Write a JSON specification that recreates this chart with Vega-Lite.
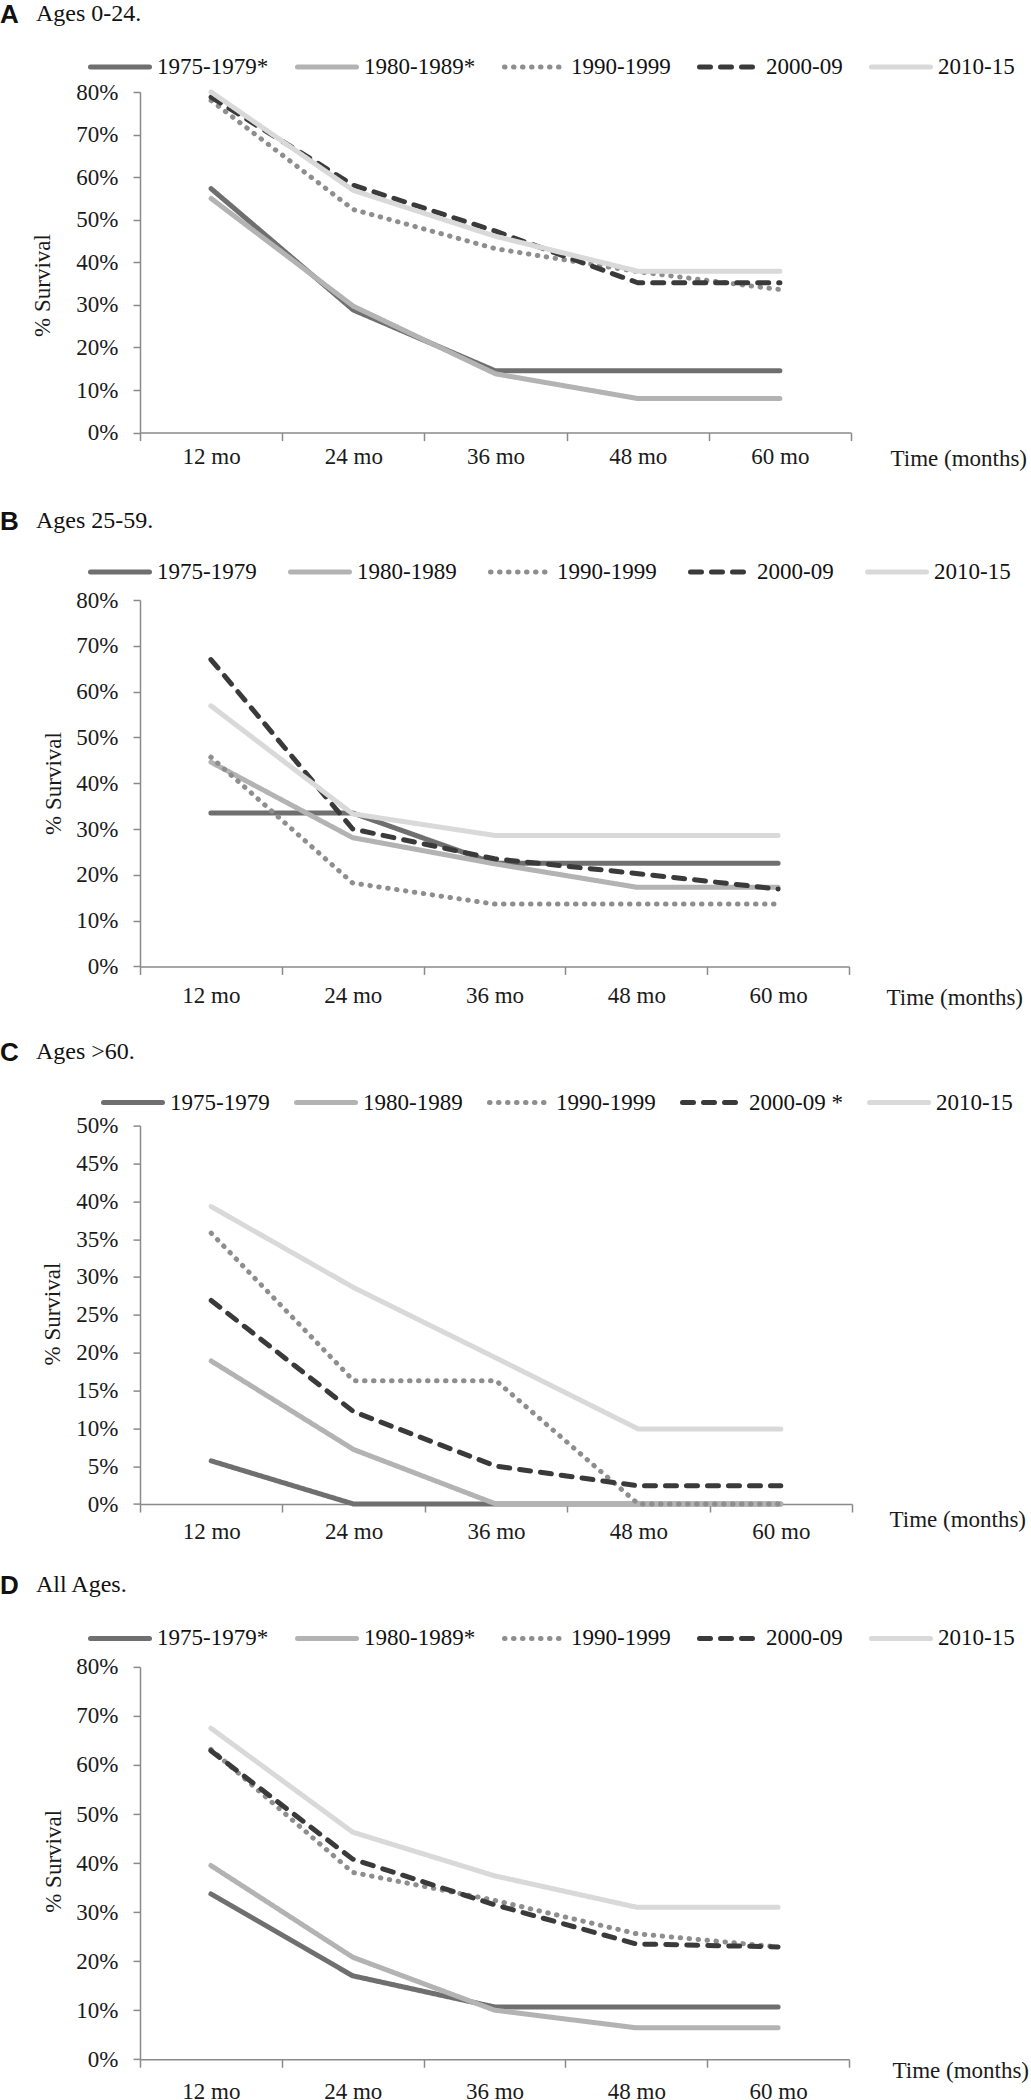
{
  "$schema": "https://vega.github.io/schema/vega-lite/v6.json",
  "padding": {"left": 0, "top": 1, "right": 0, "bottom": 0},
  "background": "white",
  "config": {
    "view": {"stroke": null},
    "font": "Liberation Serif",
    "axis": {
      "labelFont": "Liberation Serif", "labelFontSize": 23, "labelColor": "#1a1a1a",
      "titleFont": "Liberation Serif", "titleFontSize": 23, "titleFontWeight": "normal", "titleColor": "#1a1a1a",
      "domainColor": "#8a8a8a", "domainWidth": 1.5, "tickColor": "#8a8a8a", "tickWidth": 1.5, "grid": false
    },
    "legend": {
      "symbolType": "stroke", "symbolSize": 3481, "labelFont": "Liberation Serif", "labelFontSize": 23,
      "labelColor": "#111111", "labelOffset": 5, "padding": 0, "labelLimit": 300
    },
    "title": {
      "font": "Liberation Sans", "fontSize": 26, "fontWeight": "bold", "color": "#111111",
      "subtitleFont": "Liberation Serif", "subtitleFontSize": 24, "subtitleColor": "#111111",
      "anchor": "start", "frame": "group", "dx": -140, "subtitlePadding": -26
    }
  },
  "datasets": {
    "A": [
      {"period": "1975-1979", "month": 12, "survival": 57.3}, {"period": "1975-1979", "month": 24, "survival": 28.8}, {"period": "1975-1979", "month": 36, "survival": 14.5}, {"period": "1975-1979", "month": 48, "survival": 14.5}, {"period": "1975-1979", "month": 60, "survival": 14.5},
      {"period": "1980-1989", "month": 12, "survival": 55.0}, {"period": "1980-1989", "month": 24, "survival": 29.7}, {"period": "1980-1989", "month": 36, "survival": 13.8}, {"period": "1980-1989", "month": 48, "survival": 8.0}, {"period": "1980-1989", "month": 60, "survival": 8.0},
      {"period": "1990-1999", "month": 12, "survival": 78.0}, {"period": "1990-1999", "month": 24, "survival": 52.4}, {"period": "1990-1999", "month": 36, "survival": 43.2}, {"period": "1990-1999", "month": 48, "survival": 37.8}, {"period": "1990-1999", "month": 60, "survival": 33.6},
      {"period": "2000-09", "month": 12, "survival": 78.8}, {"period": "2000-09", "month": 24, "survival": 58.1}, {"period": "2000-09", "month": 36, "survival": 47.3}, {"period": "2000-09", "month": 48, "survival": 35.2}, {"period": "2000-09", "month": 60, "survival": 35.2},
      {"period": "2010-15", "month": 12, "survival": 80.0}, {"period": "2010-15", "month": 24, "survival": 56.9}, {"period": "2010-15", "month": 36, "survival": 46.1}, {"period": "2010-15", "month": 48, "survival": 37.9}, {"period": "2010-15", "month": 60, "survival": 37.9}
    ],
    "B": [
      {"period": "1975-1979", "month": 12, "survival": 33.5}, {"period": "1975-1979", "month": 24, "survival": 33.5}, {"period": "1975-1979", "month": 36, "survival": 22.5}, {"period": "1975-1979", "month": 48, "survival": 22.5}, {"period": "1975-1979", "month": 60, "survival": 22.5},
      {"period": "1980-1989", "month": 12, "survival": 44.6}, {"period": "1980-1989", "month": 24, "survival": 28.1}, {"period": "1980-1989", "month": 36, "survival": 22.4}, {"period": "1980-1989", "month": 48, "survival": 17.3}, {"period": "1980-1989", "month": 60, "survival": 17.3},
      {"period": "1990-1999", "month": 12, "survival": 45.7}, {"period": "1990-1999", "month": 24, "survival": 18.2}, {"period": "1990-1999", "month": 36, "survival": 13.6}, {"period": "1990-1999", "month": 48, "survival": 13.6}, {"period": "1990-1999", "month": 60, "survival": 13.6},
      {"period": "2000-09", "month": 12, "survival": 67.0}, {"period": "2000-09", "month": 24, "survival": 30.0}, {"period": "2000-09", "month": 36, "survival": 23.5}, {"period": "2000-09", "month": 48, "survival": 20.3}, {"period": "2000-09", "month": 60, "survival": 16.9},
      {"period": "2010-15", "month": 12, "survival": 56.9}, {"period": "2010-15", "month": 24, "survival": 33.3}, {"period": "2010-15", "month": 36, "survival": 28.6}, {"period": "2010-15", "month": 48, "survival": 28.6}, {"period": "2010-15", "month": 60, "survival": 28.6}
    ],
    "C": [
      {"period": "1975-1979", "month": 12, "survival": 5.7}, {"period": "1975-1979", "month": 24, "survival": 0}, {"period": "1975-1979", "month": 36, "survival": 0}, {"period": "1975-1979", "month": 48, "survival": 0}, {"period": "1975-1979", "month": 60, "survival": 0},
      {"period": "1980-1989", "month": 12, "survival": 18.9}, {"period": "1980-1989", "month": 24, "survival": 7.2}, {"period": "1980-1989", "month": 36, "survival": 0}, {"period": "1980-1989", "month": 48, "survival": 0}, {"period": "1980-1989", "month": 60, "survival": 0},
      {"period": "1990-1999", "month": 12, "survival": 35.8}, {"period": "1990-1999", "month": 24, "survival": 16.3}, {"period": "1990-1999", "month": 36, "survival": 16.3}, {"period": "1990-1999", "month": 48, "survival": 0}, {"period": "1990-1999", "month": 60, "survival": 0},
      {"period": "2000-09", "month": 12, "survival": 26.9}, {"period": "2000-09", "month": 24, "survival": 12.2}, {"period": "2000-09", "month": 36, "survival": 5.0}, {"period": "2000-09", "month": 48, "survival": 2.4}, {"period": "2000-09", "month": 60, "survival": 2.4},
      {"period": "2010-15", "month": 12, "survival": 39.3}, {"period": "2010-15", "month": 24, "survival": 28.6}, {"period": "2010-15", "month": 36, "survival": 19.3}, {"period": "2010-15", "month": 48, "survival": 9.9}, {"period": "2010-15", "month": 60, "survival": 9.9}
    ],
    "D": [
      {"period": "1975-1979", "month": 12, "survival": 33.7}, {"period": "1975-1979", "month": 24, "survival": 17.0}, {"period": "1975-1979", "month": 36, "survival": 10.65}, {"period": "1975-1979", "month": 48, "survival": 10.65}, {"period": "1975-1979", "month": 60, "survival": 10.65},
      {"period": "1980-1989", "month": 12, "survival": 39.5}, {"period": "1980-1989", "month": 24, "survival": 20.8}, {"period": "1980-1989", "month": 36, "survival": 10.0}, {"period": "1980-1989", "month": 48, "survival": 6.4}, {"period": "1980-1989", "month": 60, "survival": 6.4},
      {"period": "1990-1999", "month": 12, "survival": 63.2}, {"period": "1990-1999", "month": 24, "survival": 38.1}, {"period": "1990-1999", "month": 36, "survival": 32.4}, {"period": "1990-1999", "month": 48, "survival": 25.6}, {"period": "1990-1999", "month": 60, "survival": 22.9},
      {"period": "2000-09", "month": 12, "survival": 62.9}, {"period": "2000-09", "month": 24, "survival": 40.8}, {"period": "2000-09", "month": 36, "survival": 31.5}, {"period": "2000-09", "month": 48, "survival": 23.5}, {"period": "2000-09", "month": 60, "survival": 22.9},
      {"period": "2010-15", "month": 12, "survival": 67.5}, {"period": "2010-15", "month": 24, "survival": 46.3}, {"period": "2010-15", "month": 36, "survival": 37.4}, {"period": "2010-15", "month": 48, "survival": 31.0}, {"period": "2010-15", "month": 60, "survival": 31.0}
    ]
  },
  "bounds": "flush",
  "spacing": 167,
  "resolve": {
    "scale": {"stroke": "independent", "strokeDash": "independent", "strokeWidth": "independent"},
    "legend": {"stroke": "independent", "strokeDash": "independent", "strokeWidth": "independent"}
  },
  "vconcat": [
    {
      "width": 711, "height": 340.6,
      "title": {"text": "A", "subtitle": "\u200b\u00a0\u00a0\u00a0\u00a0\u00a0\u00a0Ages 0-24.", "offset": 7.5},
      "data": {"name": "A"},
      "mark": {"type": "line", "strokeCap": "round", "strokeJoin": "round"},
      "encoding": {
        "x": {"field": "month", "type": "quantitative", "scale": {"domain": [6, 66], "nice": false, "zero": false},
          "axis": {"values": [6, 18, 30, 42, 54, 66], "labelExpr": "datum.value < 66 ? (datum.value + 6) + ' mo' : ''", "labelOffset": 71.1, "labelPadding": 15.7, "labelBaseline": "middle", "labelFlush": false, "labelOverlap": false, "tickSize": 8, "title": "Time (months)", "titleX": 750, "titleY": 26, "titleAlign": "left", "titleBaseline": "middle"}},
        "y": {"field": "survival", "type": "quantitative", "scale": {"domain": [0, 80], "nice": false},
          "axis": {"values": [0, 10, 20, 30, 40, 50, 60, 70, 80], "labelExpr": "datum.value + '%'", "tickSize": 7, "labelPadding": 15, "title": "% Survival", "titleX": -98, "titleY": 193, "titlePadding": 13, "titleAngle": 270, "titleAlign": "center", "titleBaseline": "middle"}},
        "stroke": {"field": "period", "type": "nominal",
          "scale": {"domain": ["1975-1979", "1980-1989", "1990-1999", "2000-09", "2010-15"], "range": ["#6f6f6f", "#b3b3b3", "#8e8e8e", "#3a3a3a", "#d9d9d9"]},
          "legend": {"orient": "none", "legendX": -52, "legendY": -57, "direction": "horizontal", "columns": 5, "columnPadding": 18, "title": null, "labelExpr": "indexof(['1975-1979','1980-1989'], datum.label) >= 0 ? datum.label + '*' : datum.label", "encode": {"symbols": {"update": {"strokeCap": {"value": "round"}}}}}},
        "strokeDash": {"field": "period", "type": "nominal",
          "scale": {"domain": ["1975-1979", "1980-1989", "1990-1999", "2000-09", "2010-15"], "range": [[1, 0], [1, 0], [0.5, 8.5], [11, 10], [1, 0]]},
          "legend": {"orient": "none", "legendX": -52, "legendY": -57, "direction": "horizontal", "columns": 5, "columnPadding": 18, "title": null, "labelExpr": "indexof(['1975-1979','1980-1989'], datum.label) >= 0 ? datum.label + '*' : datum.label", "encode": {"symbols": {"update": {"strokeCap": {"value": "round"}}}}}},
        "strokeWidth": {"field": "period", "type": "nominal",
          "scale": {"domain": ["1975-1979", "1980-1989", "1990-1999", "2000-09", "2010-15"], "range": [5, 5, 4.5, 5.5, 5]},
          "legend": {"orient": "none", "legendX": -52, "legendY": -57, "direction": "horizontal", "columns": 5, "columnPadding": 18, "title": null, "labelExpr": "indexof(['1975-1979','1980-1989'], datum.label) >= 0 ? datum.label + '*' : datum.label", "encode": {"symbols": {"update": {"strokeCap": {"value": "round"}}}}}}
      }
    },
    {
      "bounds": "flush",
      "spacing": 158.6,
      "resolve": {
        "scale": {"stroke": "independent", "strokeDash": "independent", "strokeWidth": "independent"},
        "legend": {"stroke": "independent", "strokeDash": "independent", "strokeWidth": "independent"}
      },
      "vconcat": [
        {
          "width": 709, "height": 366.4,
          "title": {"text": "B", "subtitle": "\u200b\u00a0\u00a0\u00a0\u00a0\u00a0\u00a0Ages 25-59.", "offset": 5.5},
          "data": {"name": "B"},
          "mark": {"type": "line", "strokeCap": "round", "strokeJoin": "round"},
          "encoding": {
            "x": {"field": "month", "type": "quantitative", "scale": {"domain": [6, 66], "nice": false, "zero": false},
              "axis": {"values": [6, 18, 30, 42, 54, 66], "labelExpr": "datum.value < 66 ? (datum.value + 6) + ' mo' : ''", "labelOffset": 70.9, "labelPadding": 21, "labelBaseline": "middle", "labelFlush": false, "labelOverlap": false, "tickSize": 8, "title": "Time (months)", "titleX": 746, "titleY": 31, "titleAlign": "left", "titleBaseline": "middle"}},
            "y": {"field": "survival", "type": "quantitative", "scale": {"domain": [0, 80], "nice": false},
              "axis": {"values": [0, 10, 20, 30, 40, 50, 60, 70, 80], "labelExpr": "datum.value + '%'", "tickSize": 7, "labelPadding": 15, "title": "% Survival", "titleX": -87, "titleY": 183, "titlePadding": 2, "titleAngle": 270, "titleAlign": "center", "titleBaseline": "middle"}},
            "stroke": {"field": "period", "type": "nominal",
              "scale": {"domain": ["1975-1979", "1980-1989", "1990-1999", "2000-09", "2010-15"], "range": ["#6f6f6f", "#b3b3b3", "#8e8e8e", "#3a3a3a", "#d9d9d9"]},
              "legend": {"orient": "none", "legendX": -52, "legendY": -60, "direction": "horizontal", "columns": 5, "title": null, "columnPadding": 23, "encode": {"symbols": {"update": {"strokeCap": {"value": "round"}}}}}},
            "strokeDash": {"field": "period", "type": "nominal",
              "scale": {"domain": ["1975-1979", "1980-1989", "1990-1999", "2000-09", "2010-15"], "range": [[1, 0], [1, 0], [0.5, 8.5], [11, 10], [1, 0]]},
              "legend": {"orient": "none", "legendX": -52, "legendY": -60, "direction": "horizontal", "columns": 5, "title": null, "columnPadding": 23, "encode": {"symbols": {"update": {"strokeCap": {"value": "round"}}}}}},
            "strokeWidth": {"field": "period", "type": "nominal",
              "scale": {"domain": ["1975-1979", "1980-1989", "1990-1999", "2000-09", "2010-15"], "range": [5, 5, 4.5, 5.5, 5]},
              "legend": {"orient": "none", "legendX": -52, "legendY": -60, "direction": "horizontal", "columns": 5, "title": null, "columnPadding": 23, "encode": {"symbols": {"update": {"strokeCap": {"value": "round"}}}}}}
          }
        },
        {
          "bounds": "flush",
          "spacing": 162.3,
          "resolve": {
            "scale": {"stroke": "independent", "strokeDash": "independent", "strokeWidth": "independent"},
            "legend": {"stroke": "independent", "strokeDash": "independent", "strokeWidth": "independent"}
          },
          "vconcat": [
            {
              "width": 712, "height": 378.4,
              "title": {"text": "C", "subtitle": "\u200b\u00a0\u00a0\u00a0\u00a0\u00a0\u00a0Ages >60.", "offset": 4.5},
              "data": {"name": "C"},
              "mark": {"type": "line", "strokeCap": "round", "strokeJoin": "round"},
              "encoding": {
                "x": {"field": "month", "type": "quantitative", "scale": {"domain": [6, 66], "nice": false, "zero": false},
                  "axis": {"values": [6, 18, 30, 42, 54, 66], "labelExpr": "datum.value < 66 ? (datum.value + 6) + ' mo' : ''", "labelOffset": 71.2, "labelPadding": 19, "labelBaseline": "middle", "labelFlush": false, "labelOverlap": false, "tickSize": 8, "title": "Time (months)", "titleX": 749, "titleY": 15, "titleAlign": "left", "titleBaseline": "middle"}},
                "y": {"field": "survival", "type": "quantitative", "scale": {"domain": [0, 50], "nice": false},
                  "axis": {"values": [0, 5, 10, 15, 20, 25, 30, 35, 40, 45, 50], "labelExpr": "datum.value + '%'", "tickSize": 7, "labelPadding": 15, "title": "% Survival", "titleX": -88, "titleY": 188, "titlePadding": 3, "titleAngle": 270, "titleAlign": "center", "titleBaseline": "middle"}},
                "stroke": {"field": "period", "type": "nominal",
                  "scale": {"domain": ["1975-1979", "1980-1989", "1990-1999", "2000-09", "2010-15"], "range": ["#6f6f6f", "#b3b3b3", "#8e8e8e", "#3a3a3a", "#d9d9d9"]},
                  "legend": {"orient": "none", "legendX": -39, "legendY": -55, "direction": "horizontal", "columns": 5, "title": null, "columnPadding": 16, "labelExpr": "datum.label == '2000-09' ? datum.label + ' *' : datum.label", "encode": {"symbols": {"update": {"strokeCap": {"value": "round"}}}}}},
                "strokeDash": {"field": "period", "type": "nominal",
                  "scale": {"domain": ["1975-1979", "1980-1989", "1990-1999", "2000-09", "2010-15"], "range": [[1, 0], [1, 0], [0.5, 8.5], [11, 10], [1, 0]]},
                  "legend": {"orient": "none", "legendX": -39, "legendY": -55, "direction": "horizontal", "columns": 5, "title": null, "columnPadding": 16, "labelExpr": "datum.label == '2000-09' ? datum.label + ' *' : datum.label", "encode": {"symbols": {"update": {"strokeCap": {"value": "round"}}}}}},
                "strokeWidth": {"field": "period", "type": "nominal",
                  "scale": {"domain": ["1975-1979", "1980-1989", "1990-1999", "2000-09", "2010-15"], "range": [5, 5, 4.5, 5.5, 5]},
                  "legend": {"orient": "none", "legendX": -39, "legendY": -55, "direction": "horizontal", "columns": 5, "title": null, "columnPadding": 16, "labelExpr": "datum.label == '2000-09' ? datum.label + ' *' : datum.label", "encode": {"symbols": {"update": {"strokeCap": {"value": "round"}}}}}}
              }
            },
            {
              "width": 709, "height": 392.3,
              "title": {"text": "D", "subtitle": "\u200b\u00a0\u00a0\u00a0\u00a0\u00a0\u00a0All Ages.", "offset": 7},
              "data": {"name": "D"},
              "mark": {"type": "line", "strokeCap": "round", "strokeJoin": "round"},
              "encoding": {
                "x": {"field": "month", "type": "quantitative", "scale": {"domain": [6, 66], "nice": false, "zero": false},
                  "axis": {"values": [6, 18, 30, 42, 54, 66], "labelExpr": "datum.value < 66 ? (datum.value + 6) + ' mo' : ''", "labelOffset": 70.9, "labelPadding": 24, "labelBaseline": "middle", "labelFlush": false, "labelOverlap": false, "tickSize": 8, "title": "Time (months)", "titleX": 752, "titleY": 11, "titleAlign": "left", "titleBaseline": "middle"}},
                "y": {"field": "survival", "type": "quantitative", "scale": {"domain": [0, 80], "nice": false},
                  "axis": {"values": [0, 10, 20, 30, 40, 50, 60, 70, 80], "labelExpr": "datum.value + '%'", "tickSize": 7, "labelPadding": 15, "title": "% Survival", "titleX": -87, "titleY": 194, "titlePadding": 2, "titleAngle": 270, "titleAlign": "center", "titleBaseline": "middle"}},
                "stroke": {"field": "period", "type": "nominal",
                  "scale": {"domain": ["1975-1979", "1980-1989", "1990-1999", "2000-09", "2010-15"], "range": ["#6f6f6f", "#b3b3b3", "#8e8e8e", "#3a3a3a", "#d9d9d9"]},
                  "legend": {"orient": "none", "legendX": -52, "legendY": -60.5, "direction": "horizontal", "columns": 5, "columnPadding": 18, "title": null, "labelExpr": "indexof(['1975-1979','1980-1989'], datum.label) >= 0 ? datum.label + '*' : datum.label", "encode": {"symbols": {"update": {"strokeCap": {"value": "round"}}}}}},
                "strokeDash": {"field": "period", "type": "nominal",
                  "scale": {"domain": ["1975-1979", "1980-1989", "1990-1999", "2000-09", "2010-15"], "range": [[1, 0], [1, 0], [0.5, 8.5], [11, 10], [1, 0]]},
                  "legend": {"orient": "none", "legendX": -52, "legendY": -60.5, "direction": "horizontal", "columns": 5, "columnPadding": 18, "title": null, "labelExpr": "indexof(['1975-1979','1980-1989'], datum.label) >= 0 ? datum.label + '*' : datum.label", "encode": {"symbols": {"update": {"strokeCap": {"value": "round"}}}}}},
                "strokeWidth": {"field": "period", "type": "nominal",
                  "scale": {"domain": ["1975-1979", "1980-1989", "1990-1999", "2000-09", "2010-15"], "range": [5, 5, 4.5, 5.5, 5]},
                  "legend": {"orient": "none", "legendX": -52, "legendY": -60.5, "direction": "horizontal", "columns": 5, "columnPadding": 18, "title": null, "labelExpr": "indexof(['1975-1979','1980-1989'], datum.label) >= 0 ? datum.label + '*' : datum.label", "encode": {"symbols": {"update": {"strokeCap": {"value": "round"}}}}}}
              }
            }
          ]
        }
      ]
    }
  ]
}
